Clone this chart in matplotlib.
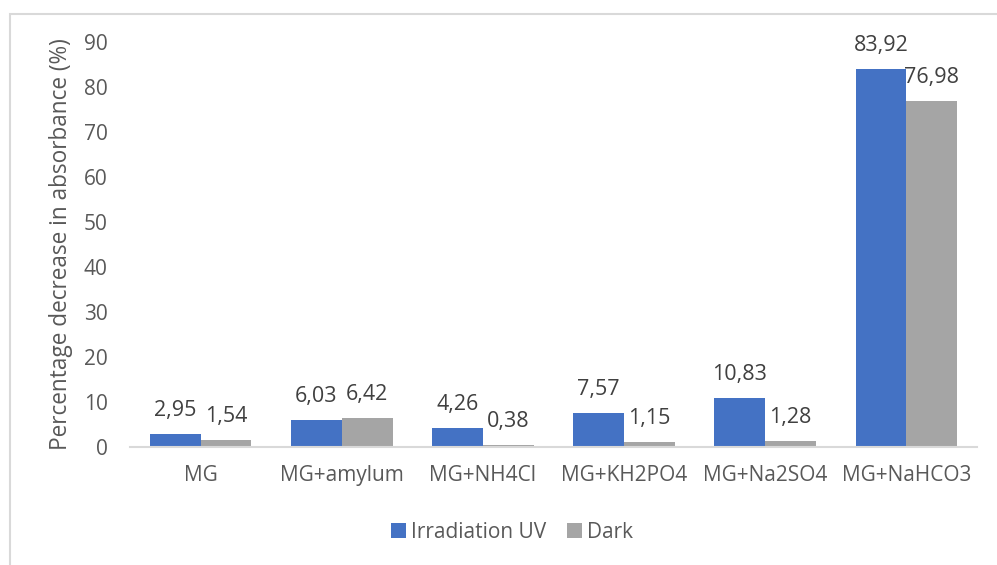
import matplotlib
matplotlib.use("Agg")
import matplotlib.pyplot as plt
from matplotlib.patches import Rectangle
import numpy as np

plt.rcParams['font.family'] = ['Open Sans', 'DejaVu Sans']

categories = ["MG", "MG+amylum", "MG+NH4Cl", "MG+KH2PO4", "MG+Na2SO4", "MG+NaHCO3"]
uv_values = [2.95, 6.03, 4.26, 7.57, 10.83, 83.92]
dark_values = [1.54, 6.42, 0.38, 1.15, 1.28, 76.98]
series_names = ["Irradiation UV", "Dark"]
yticks = [0, 10, 20, 30, 40, 50, 60, 70, 80, 90]

blue = "#4472C4"
grey = "#A5A5A5"
txt = "#595959"

W, H = 997, 565
fig = plt.figure(figsize=(W / 100, H / 100), dpi=100)
ax = fig.add_axes([130 / W, 1 - 447 / H, (977 - 130) / W, (447 - 42) / H])

# outer chart border (runs off the right and bottom edges)
fig.patches.append(Rectangle((10 / W, -0.05), 1.1, 1 - 14 / H + 0.05,
                             transform=fig.transFigure, fill=False,
                             edgecolor="#d9d9d9", linewidth=1.5, zorder=0))

x = np.arange(len(categories))
w = 0.36
b1 = ax.bar(x - w / 2, uv_values, w, color=blue, label=series_names[0])
b2 = ax.bar(x + w / 2, dark_values, w, color=grey, label=series_names[1])

for bars, vals in ((b1, uv_values), (b2, dark_values)):
    for rect, v in zip(bars, vals):
        ax.annotate(f"{v:.2f}".replace(".", ","),
                    (rect.get_x() + rect.get_width() / 2, v),
                    xytext=(0, 18), textcoords="offset pixels",
                    ha="center", va="baseline", fontsize=15.5, color="#404040")

ax.set_xlim(-0.5, len(categories) - 0.5)
ax.set_ylim(0, 90)
ax.set_yticks(yticks)
ax.set_xticks(x)
ax.set_xticklabels(categories)
ax.tick_params(axis="both", length=0, labelsize=15, labelcolor=txt)
ax.tick_params(axis="y", pad=16)
ax.tick_params(axis="x", pad=13)
for s in ("top", "right", "left"):
    ax.spines[s].set_visible(False)
ax.spines["bottom"].set_color("#d9d9d9")
ax.spines["bottom"].set_linewidth(1.5)

ax.set_ylabel("Percentage decrease in absorbance (%)", fontsize=16.3, color=txt)
ax.yaxis.set_label_coords(-0.067, 0.5)

fig.legend(loc="center", bbox_to_anchor=(512 / W, 1 - 532 / H), ncol=2, frameon=False,
           fontsize=15, labelcolor=txt, handlelength=0.7, handleheight=0.7,
           handletextpad=0.25, columnspacing=1.0)

fig.savefig("out.png", dpi=100)
